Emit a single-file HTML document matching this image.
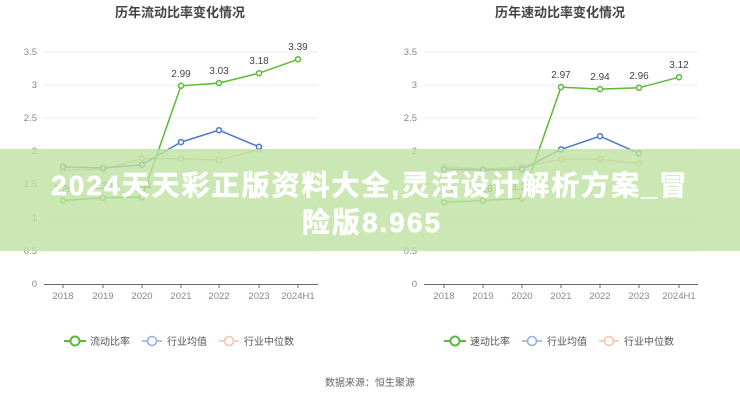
<!DOCTYPE html>
<html><head><meta charset="utf-8"><style>
body{margin:0;background:#fff;width:740px;height:400px;overflow:hidden;font-family:"Liberation Sans","Noto Sans CJK SC",sans-serif}
</style></head><body>
<svg width="740" height="400" xmlns="http://www.w3.org/2000/svg" font-family="Liberation Sans, Noto Sans CJK SC, sans-serif">
<rect width="740" height="400" fill="#fff"/>
<g font-size="13" font-weight="bold" fill="#444" text-anchor="middle">
<text x="180" y="17">历年流动比率变化情况</text>
<text x="560" y="17">历年速动比率变化情况</text>
</g>
<g stroke="#eee" stroke-width="1">
<line x1="44" x2="318" y1="52" y2="52"/><line x1="44" x2="318" y1="85" y2="85"/><line x1="44" x2="318" y1="118" y2="118"/><line x1="44" x2="318" y1="151" y2="151"/><line x1="44" x2="318" y1="184" y2="184"/><line x1="44" x2="318" y1="218" y2="218"/><line x1="44" x2="318" y1="251" y2="251"/>
<line x1="424" x2="698" y1="52" y2="52"/><line x1="424" x2="698" y1="85" y2="85"/><line x1="424" x2="698" y1="118" y2="118"/><line x1="424" x2="698" y1="151" y2="151"/><line x1="424" x2="698" y1="184" y2="184"/><line x1="424" x2="698" y1="218" y2="218"/><line x1="424" x2="698" y1="251" y2="251"/>
</g>
<g stroke="#666"><line x1="44" x2="318" y1="284.5" y2="284.5"/><line x1="424" x2="698" y1="284.5" y2="284.5"/>
<path d="M63 284v4M103 284v4M142 284v4M181 284v4M219 284v4M259 284v4M298 284v4M444 284v4M483 284v4M522 284v4M561 284v4M600 284v4M639 284v4M679 284v4"/></g>
<g font-size="9.5" fill="#888" text-anchor="end">
<text x="37" y="55">3.5</text><text x="37" y="88">3</text><text x="37" y="121">2.5</text><text x="37" y="154">2</text><text x="37" y="187">1.5</text><text x="37" y="221">1</text><text x="37" y="254">0.5</text><text x="37" y="287">0</text>
<text x="417" y="55">3.5</text><text x="417" y="88">3</text><text x="417" y="121">2.5</text><text x="417" y="154">2</text><text x="417" y="187">1.5</text><text x="417" y="221">1</text><text x="417" y="254">0.5</text><text x="417" y="287">0</text>
</g>
<g font-size="9.5" fill="#888" text-anchor="middle">
<text x="63" y="299">2018</text><text x="103" y="299">2019</text><text x="142" y="299">2020</text><text x="181" y="299">2021</text><text x="219" y="299">2022</text><text x="259" y="299">2023</text><text x="298" y="299">2024H1</text>
<text x="444" y="299">2018</text><text x="483" y="299">2019</text><text x="522" y="299">2020</text><text x="561" y="299">2021</text><text x="600" y="299">2022</text><text x="639" y="299">2023</text><text x="679" y="299">2024H1</text>
</g>
<g fill="#fff" stroke-width="1.5">
<polyline fill="none" stroke="#e8b48a" points="63,170 103,169.3 142,158.7 181,158.7 219,160 259,149.4"/>
<polyline fill="none" stroke="#4a78c8" points="63,166.7 103,168 142,164.7 181,142.1 219,130.2 259,146.8"/>
<polyline fill="none" stroke="#5cb83a" points="63,200.5 103,197.8 142,197.2 181,85.8 219,83.1 259,73.2 298,59.3"/>
<polyline fill="none" stroke="#e8b48a" points="444,166.7 483,169.3 522,166.7 561,159.4 600,159.4 639,163.4"/>
<polyline fill="none" stroke="#4a78c8" points="444,169.3 483,170 522,169.3 561,149.4 600,136.2 639,153.4"/>
<polyline fill="none" stroke="#5cb83a" points="444,202.5 483,200.5 522,198.5 561,87.1 600,89.1 639,87.8 679,77.2"/>
<g stroke="#e8b48a"><circle cx="63" cy="170" r="2.5"/><circle cx="103" cy="169.3" r="2.5"/><circle cx="142" cy="158.7" r="2.5"/><circle cx="181" cy="158.7" r="2.5"/><circle cx="219" cy="160" r="2.5"/><circle cx="259" cy="149.4" r="2.5"/>
<circle cx="444" cy="166.7" r="2.5"/><circle cx="483" cy="169.3" r="2.5"/><circle cx="522" cy="166.7" r="2.5"/><circle cx="561" cy="159.4" r="2.5"/><circle cx="600" cy="159.4" r="2.5"/><circle cx="639" cy="163.4" r="2.5"/></g>
<g stroke="#4a78c8"><circle cx="63" cy="166.7" r="2.5"/><circle cx="103" cy="168" r="2.5"/><circle cx="142" cy="164.7" r="2.5"/><circle cx="181" cy="142.1" r="2.5"/><circle cx="219" cy="130.2" r="2.5"/><circle cx="259" cy="146.8" r="2.5"/>
<circle cx="444" cy="169.3" r="2.5"/><circle cx="483" cy="170" r="2.5"/><circle cx="522" cy="169.3" r="2.5"/><circle cx="561" cy="149.4" r="2.5"/><circle cx="600" cy="136.2" r="2.5"/><circle cx="639" cy="153.4" r="2.5"/></g>
<g stroke="#5cb83a"><circle cx="63" cy="200.5" r="2.5"/><circle cx="103" cy="197.8" r="2.5"/><circle cx="142" cy="197.2" r="2.5"/><circle cx="181" cy="85.8" r="2.5"/><circle cx="219" cy="83.1" r="2.5"/><circle cx="259" cy="73.2" r="2.5"/><circle cx="298" cy="59.3" r="2.5"/>
<circle cx="444" cy="202.5" r="2.5"/><circle cx="483" cy="200.5" r="2.5"/><circle cx="522" cy="198.5" r="2.5"/><circle cx="561" cy="87.1" r="2.5"/><circle cx="600" cy="89.1" r="2.5"/><circle cx="639" cy="87.8" r="2.5"/><circle cx="679" cy="77.2" r="2.5"/></g>
</g>
<g font-size="10" fill="#444" text-anchor="middle">
<text x="181" y="77">2.99</text><text x="219" y="74">3.03</text><text x="259" y="64">3.18</text><text x="298" y="50">3.39</text>
<text x="63" y="192">1.26</text><text x="103" y="189">1.30</text><text x="142" y="188">1.31</text>
<text x="561" y="78">2.97</text><text x="600" y="80">2.94</text><text x="639" y="79">2.96</text><text x="679" y="68">3.12</text>
<text x="444" y="194">1.23</text><text x="483" y="192">1.26</text><text x="522" y="190">1.29</text>
</g>
<g font-size="10" fill="#555">
<line x1="64" x2="86" y1="341" y2="341" stroke="#5cb83a" stroke-width="2"/><circle cx="75" cy="341" r="4.5" fill="#fff" stroke="#5cb83a" stroke-width="2"/><text x="90" y="345">流动比率</text>
<line x1="142" x2="162" y1="341" y2="341" stroke="#8fb0e0" stroke-width="1.5"/><circle cx="152" cy="341" r="4.5" fill="#fff" stroke="#8fb0e0" stroke-width="1.5"/><text x="167" y="345">行业均值</text>
<line x1="219" x2="239" y1="341" y2="341" stroke="#f0c4a8" stroke-width="1.5"/><circle cx="229" cy="341" r="4.5" fill="#fff" stroke="#f0c4a8" stroke-width="1.5"/><text x="244" y="345">行业中位数</text>
<line x1="444" x2="466" y1="341" y2="341" stroke="#5cb83a" stroke-width="2"/><circle cx="455" cy="341" r="4.5" fill="#fff" stroke="#5cb83a" stroke-width="2"/><text x="470" y="345">速动比率</text>
<line x1="522" x2="542" y1="341" y2="341" stroke="#8fb0e0" stroke-width="1.5"/><circle cx="532" cy="341" r="4.5" fill="#fff" stroke="#8fb0e0" stroke-width="1.5"/><text x="547" y="345">行业均值</text>
<line x1="599" x2="619" y1="341" y2="341" stroke="#f0c4a8" stroke-width="1.5"/><circle cx="609" cy="341" r="4.5" fill="#fff" stroke="#f0c4a8" stroke-width="1.5"/><text x="624" y="345">行业中位数</text>
<text x="370" y="386" text-anchor="middle" fill="#666">数据来源：恒生聚源</text>
</g>
<rect x="0" y="149" width="740" height="102" fill="rgb(190,225,160)" fill-opacity="0.8"/>
<g font-size="28" font-weight="bold" fill="#fff" text-anchor="middle" letter-spacing="2" stroke="#fff" stroke-width="0.6">
<text x="370" y="195">2024天天彩正版资料大全,灵活设计解析方案_冒</text>
<text x="372" y="232">险版8.965</text>
</g>
</svg>
</body></html>
